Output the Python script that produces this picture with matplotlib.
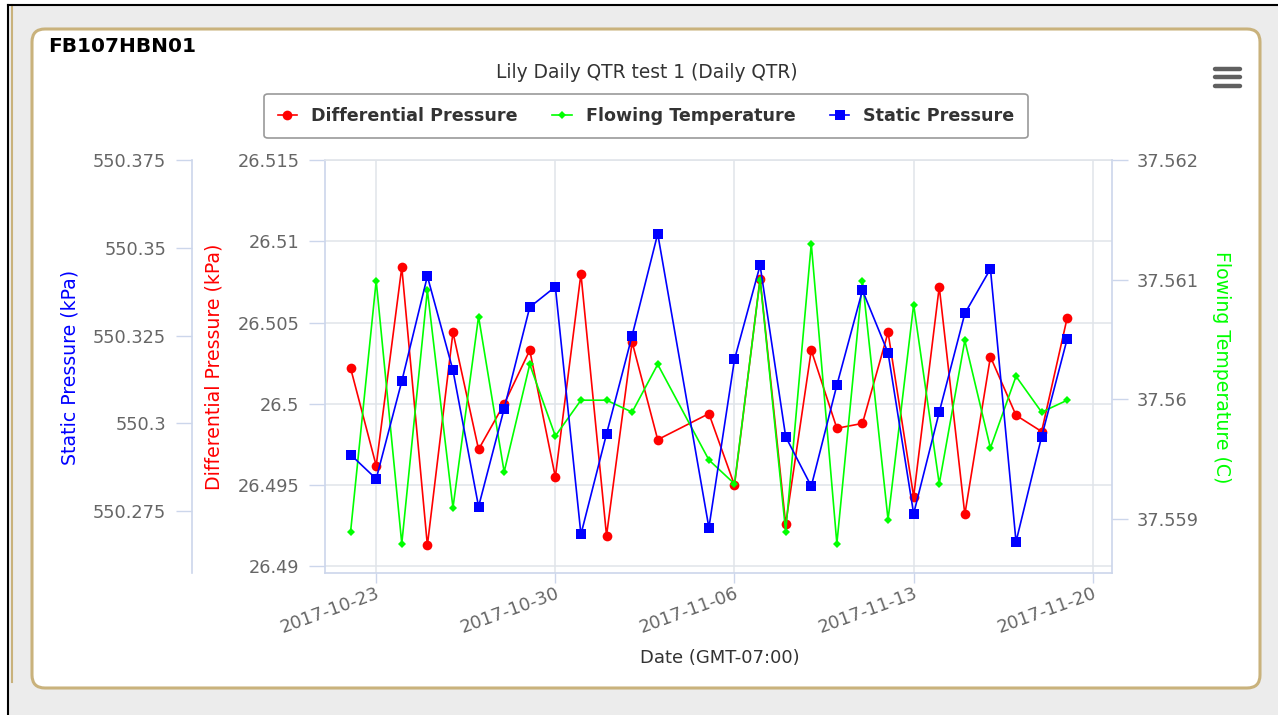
import numpy as np
import matplotlib
matplotlib.use('Agg')
import matplotlib.pyplot as plt
import matplotlib.dates as mdates
from matplotlib.patches import FancyBboxPatch, Rectangle
from matplotlib.lines import Line2D
from matplotlib.transforms import IdentityTransform

# ---- data ----
dates = np.array(['2017-10-22', '2017-10-23', '2017-10-24', '2017-10-25', '2017-10-26',
                  '2017-10-27', '2017-10-28', '2017-10-29', '2017-10-30', '2017-10-31',
                  '2017-11-01', '2017-11-02', '2017-11-03', '2017-11-05', '2017-11-06',
                  '2017-11-07', '2017-11-08', '2017-11-09', '2017-11-10', '2017-11-11',
                  '2017-11-12', '2017-11-13', '2017-11-14', '2017-11-15', '2017-11-16',
                  '2017-11-17', '2017-11-18', '2017-11-19'], dtype='datetime64[D]')

diff_pressure = [26.5022, 26.4962, 26.5084, 26.4913, 26.5044, 26.4972, 26.5000, 26.5033,
                 26.4955, 26.5080, 26.4919, 26.5038, 26.4978, 26.4994, 26.4950, 26.5077,
                 26.4926, 26.5033, 26.4985, 26.4988, 26.5044, 26.4943, 26.5072, 26.4932,
                 26.5029, 26.4993, 26.4983, 26.5053]

flow_temp = [37.55889, 37.56099, 37.55879, 37.56091, 37.55909, 37.56069, 37.55939, 37.56029,
             37.55969, 37.55999, 37.55999, 37.55989, 37.56029, 37.55949, 37.55929, 37.56100,
             37.55889, 37.56130, 37.55879, 37.56099, 37.55899, 37.56079, 37.55929, 37.56049,
             37.55959, 37.56019, 37.55989, 37.55999]

static_pressure = [550.2911, 550.2842, 550.3120, 550.3419, 550.3151, 550.2763, 550.3042, 550.3331,
                   550.3389, 550.2684, 550.2970, 550.3250, 550.3540, 550.2703, 550.3182, 550.3450,
                   550.2962, 550.2821, 550.3109, 550.3379, 550.3201, 550.2743, 550.3032, 550.3313,
                   550.3440, 550.2663, 550.2962, 550.3241]

series_names = ['Differential Pressure', 'Flowing Temperature', 'Static Pressure']

dp_ticks = [26.49, 26.495, 26.5, 26.505, 26.51, 26.515]
dp_labels = ['26.49', '26.495', '26.5', '26.505', '26.51', '26.515']
sp_ticks = [550.275, 550.3, 550.325, 550.35, 550.375]
sp_labels = ['550.275', '550.3', '550.325', '550.35', '550.375']
ft_ticks = [37.559, 37.56, 37.561, 37.562]
ft_labels = ['37.559', '37.56', '37.561', '37.562']
date_ticks = np.array(['2017-10-23', '2017-10-30', '2017-11-06', '2017-11-13', '2017-11-20'],
                      dtype='datetime64[D]')

# ---- figure ----
W, H = 1278, 715
plt.rcParams['font.family'] = 'DejaVu Sans'
fig = plt.figure(figsize=(W / 100, H / 100), dpi=100)
fig.patch.set_facecolor('white')
ident = IdentityTransform()

# page background, frame lines and the card
fig.add_artist(Rectangle((8, 0), W - 8, H - 5, transform=ident, facecolor='#ececec',
                         edgecolor='none', zorder=-10))
fig.add_artist(Line2D([11.5, 11.5], [H - 682, H - 5], transform=ident, color='#c9b27c',
                      lw=1.5, zorder=-9))
fig.add_artist(Line2D([8, 8], [0, H - 5], transform=ident, color='black', lw=1.5, zorder=-8))
fig.add_artist(Line2D([8, W], [H - 5, H - 5], transform=ident, color='black', lw=1.5, zorder=-8))
fig.add_artist(FancyBboxPatch((32, H - 688), 1260 - 32, 688 - 29,
                              boxstyle='round,pad=0,rounding_size=13', transform=ident,
                              facecolor='white', edgecolor='#c9b27c', lw=2.2, zorder=-7))

# menu icon
for yy in (69, 77, 86):
    fig.add_artist(Line2D([1215, 1240], [H - yy, H - yy], transform=ident, color='#606060',
                          lw=3.2, solid_capstyle='round'))

fig.text(48 / W, 1 - 47 / H, 'FB107HBN01', fontsize=14.5, fontweight='bold', ha='left',
         va='center', color='black')
fig.text(647 / W, 1 - 72 / H, 'Lily Daily QTR test 1 (Daily QTR)', fontsize=13.4,
         ha='center', va='center', color='#333333')

axis_col = '#ccd6eb'
lab_col = '#666666'
tick_fs = 12.8

ax = fig.add_axes([325 / W, 1 - 573 / H, (1112 - 325) / W, (573 - 160) / H])
ax.set_facecolor('white')
ax_t = ax.twinx()
ax_s = ax.twinx()

# series
ax.plot(dates, diff_pressure, color='#ff0000', lw=1.2, marker='o', ms=7, mew=0)
ax_t.plot(dates, flow_temp, color='#00ff00', lw=1.2, marker='D', ms=4.2, mew=0)
ax_s.plot(dates, static_pressure, color='#0000ff', lw=1.2, marker='s', ms=6.6, mew=0)

# x axis
ax.set_xlim(np.datetime64('2017-10-21T00:00'), np.datetime64('2017-11-20T18:00'))
ax.set_xticks(date_ticks)
ax.xaxis.set_major_formatter(mdates.DateFormatter('%Y-%m-%d'))
ax.tick_params(axis='x', direction='out', length=7, width=1, color=axis_col, pad=1,
               labelsize=13, labelcolor=lab_col)
plt.setp(ax.get_xticklabels(), rotation=20, ha='right', rotation_mode='anchor')
ax.grid(True, color='#e0e4ea', lw=1.1)
ax.set_axisbelow(True)

# differential pressure axis
ax.set_ylim(26.4896, 26.515)
ax.set_yticks(dp_ticks, dp_labels)
ax.tick_params(axis='y', direction='out', length=11.5, width=1, color=axis_col, pad=7,
               labelsize=tick_fs, labelcolor=lab_col)

# temperature axis
ax_t.set_ylim(37.558544, 37.562)
ax_t.set_yticks(ft_ticks, ft_labels)
ax_t.tick_params(axis='y', direction='out', length=11.5, width=1, color=axis_col, pad=6,
                 labelsize=tick_fs, labelcolor=lab_col)

# static pressure axis, offset to the left
ax_s.set_ylim(550.2574, 550.375)
ax_s.yaxis.set_ticks_position('left')
ax_s.spines['left'].set_position(('axes', (192 - 325) / (1112 - 325)))
ax_s.set_yticks(sp_ticks, sp_labels)
ax_s.tick_params(axis='y', direction='out', length=11.5, width=1, color=axis_col, pad=7,
                 labelsize=tick_fs, labelcolor=lab_col)

for a in (ax, ax_t, ax_s):
    for sp in a.spines.values():
        sp.set_visible(False)
for side in ('left', 'bottom', 'top'):
    ax.spines[side].set_visible(True)
    ax.spines[side].set_color(axis_col)
    ax.spines[side].set_linewidth(1.2)
ax.spines['top'].set_color('#e0e4ea')
ax_t.spines['right'].set_visible(True)
ax_t.spines['right'].set_color(axis_col)
ax_t.spines['right'].set_linewidth(1.2)
ax_s.spines['left'].set_visible(True)
ax_s.spines['left'].set_color(axis_col)
ax_s.spines['left'].set_linewidth(1.2)

# axis titles
fig.text(70 / W, 1 - 367 / H, 'Static Pressure (kPa)', rotation=90, ha='center', va='center',
         fontsize=13.6, color='#0000ff')
fig.text(214 / W, 1 - 367 / H, 'Differential Pressure (kPa)', rotation=90, ha='center',
         va='center', fontsize=13.6, color='#ff0000')
fig.text(1222 / W, 1 - 367 / H, 'Flowing Temperature (C)', rotation=270, ha='center',
         va='center', fontsize=13.6, color='#00ff00')
fig.text(720 / W, 1 - 658 / H, 'Date (GMT-07:00)', ha='center', va='center', fontsize=13,
         color='#333333')

# legend
handles = [Line2D([], [], color='#ff0000', lw=1.2, marker='o', ms=7, mew=0),
           Line2D([], [], color='#00ff00', lw=1.2, marker='D', ms=4.2, mew=0),
           Line2D([], [], color='#0000ff', lw=1.2, marker='s', ms=6.6, mew=0)]
leg = fig.legend(handles, series_names, loc='center', bbox_to_anchor=(646 / W, 1 - 116 / H),
                 ncol=3, frameon=True, fancybox=True, prop={'weight': 'bold', 'size': 12.6},
                 handlelength=1.1, handletextpad=0.8, columnspacing=2.0, borderpad=0.75,
                 edgecolor='#999999', facecolor='white', framealpha=1)
leg.get_frame().set_linewidth(1.2)
for t in leg.get_texts():
    t.set_color('#333333')

fig.savefig('out.png', dpi=100, facecolor=fig.get_facecolor())
